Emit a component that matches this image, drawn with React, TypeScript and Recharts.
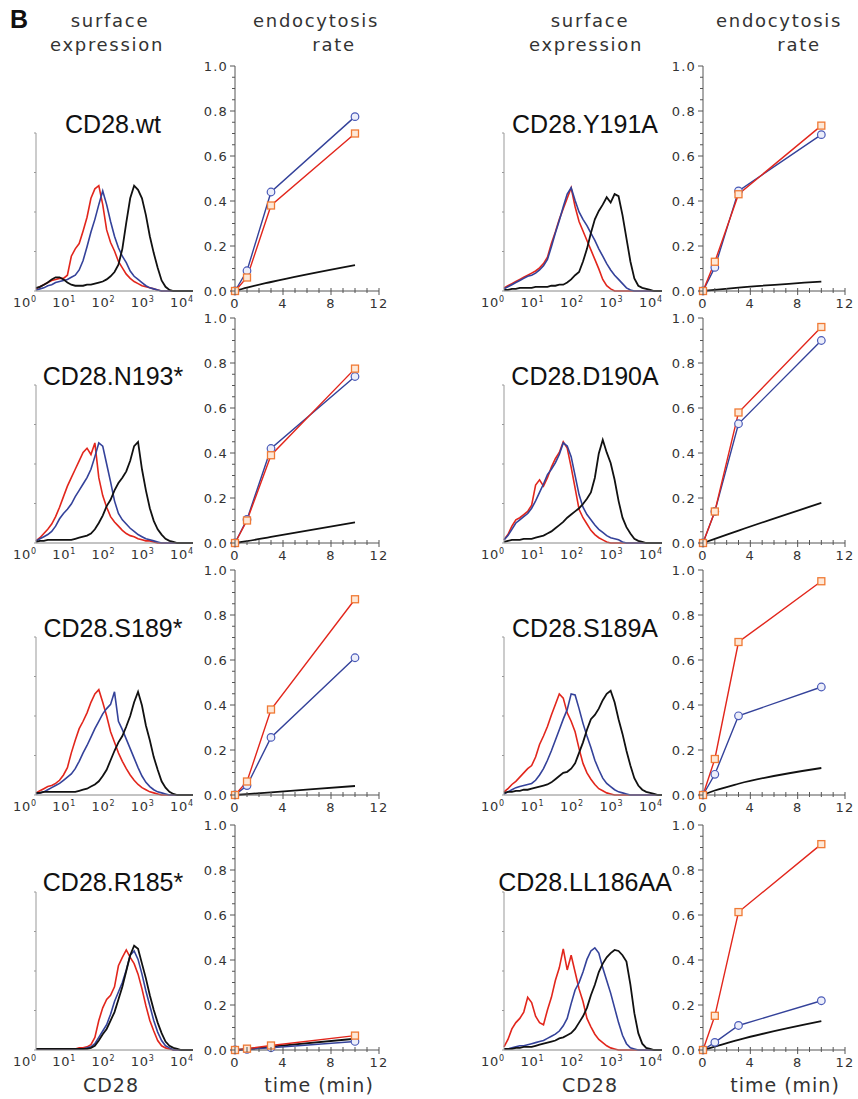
import { LineChart, Line, XAxis, YAxis } from "recharts";

// log10 fluorescence grid (histogram channels) and time points
const LOG_X = [0, 0.1, 0.2, 0.3, 0.4, 0.5, 0.6, 0.7, 0.8, 0.9, 1, 1.1, 1.2, 1.3, 1.4, 1.5, 1.6, 1.7, 1.8, 1.9, 2, 2.1, 2.2, 2.3, 2.4, 2.5, 2.6, 2.7, 2.8, 2.9, 3, 3.1, 3.2, 3.3, 3.4, 3.5, 3.6, 3.7, 3.8, 3.9, 4];
const TIME_MIN = [0, 1, 3, 10];
const HIST_X_TICKS = [0, 1, 2, 3, 4];
const HIST_Y_TICKS = [0, 37.5, 75, 112.5, 150];
const RATE_TICKS = [0, 0.05, 0.1, 0.15, 0.2, 0.25, 0.3, 0.35, 0.4, 0.45, 0.5, 0.55, 0.6, 0.65, 0.7, 0.75, 0.8, 0.85, 0.9, 0.95, 1];
const TIME_TICKS = [0, 1, 2, 3, 4, 5, 6, 7, 8, 9, 10, 11, 12];

// surface expression histograms (relative counts)
const wtHistRed = [2, 4, 6, 8, 10, 11, 12, 12, 15, 33, 40, 45, 57, 70, 88, 97, 100, 82, 58, 46, 38, 28, 22, 16, 12, 9, 7, 5, 4, 3, 2, 1, 0, 0, 0, 0, 0, 0, 0, 0, 0];
const wtHistBlue = [1, 2, 3, 5, 6, 8, 9, 10, 11, 13, 15, 20, 29, 42, 56, 68, 82, 95, 82, 66, 52, 41, 33, 27, 19, 14, 11, 8, 5, 3, 2, 1, 0, 0, 0, 0, 0, 0, 0, 0, 0];
const wtHistBlack = [3, 4, 6, 8, 11, 13, 13, 11, 8, 6, 5, 5, 5, 6, 6, 7, 8, 9, 11, 14, 18, 25, 40, 65, 88, 100, 96, 88, 72, 52, 36, 22, 10, 4, 1, 0, 0, 0, 0, 0, 0];

const y191aHistRed = [3, 5, 7, 9, 11, 13, 15, 17, 19, 22, 26, 32, 45, 56, 68, 78, 88, 98, 80, 66, 57, 48, 39, 30, 21, 11, 5, 2, 0, 0, 0, 0, 0, 0, 0, 0, 0, 0, 0, 0, 0];
const y191aHistBlue = [2, 4, 6, 8, 10, 12, 14, 15, 17, 20, 24, 30, 42, 55, 67, 80, 92, 98, 86, 75, 68, 62, 55, 48, 40, 33, 26, 20, 15, 11, 7, 3, 1, 0, 0, 0, 0, 0, 0, 0, 0];
const y191aHistBlack = [1, 1, 2, 2, 3, 3, 3, 3, 4, 4, 4, 4, 5, 5, 6, 6, 8, 11, 15, 18, 28, 40, 55, 68, 76, 82, 89, 84, 92, 90, 72, 50, 28, 12, 5, 3, 2, 1, 0, 0, 0];

const n193HistRed = [2, 5, 9, 13, 18, 25, 34, 44, 54, 62, 70, 78, 86, 90, 84, 95, 62, 45, 34, 25, 20, 16, 12, 9, 7, 6, 4, 3, 2, 2, 1, 0, 0, 0, 0, 0, 0, 0, 0, 0, 0];
const n193HistBlue = [2, 4, 6, 8, 11, 16, 23, 28, 32, 37, 44, 50, 56, 62, 70, 82, 95, 92, 75, 58, 40, 28, 22, 18, 14, 11, 8, 6, 4, 3, 2, 1, 0, 0, 0, 0, 0, 0, 0, 0, 0];
const n193HistBlack = [1, 2, 2, 3, 3, 3, 3, 3, 3, 3, 4, 5, 6, 7, 9, 13, 19, 26, 35, 41, 50, 57, 62, 68, 78, 92, 96, 70, 50, 33, 21, 13, 8, 4, 2, 1, 0, 0, 0, 0, 0];

const d190aHistRed = [3, 8, 16, 22, 24, 27, 30, 36, 55, 60, 54, 62, 72, 80, 86, 96, 90, 72, 52, 32, 24, 18, 12, 8, 5, 3, 1, 0, 0, 0, 0, 0, 0, 0, 0, 0, 0, 0, 0, 0, 0];
const d190aHistBlue = [3, 7, 13, 19, 22, 25, 28, 33, 40, 48, 56, 65, 70, 76, 84, 95, 92, 82, 64, 46, 34, 27, 22, 17, 13, 10, 7, 5, 4, 3, 1, 0, 0, 0, 0, 0, 0, 0, 0, 0, 0];
const d190aHistBlack = [1, 2, 3, 3, 3, 4, 4, 4, 5, 6, 7, 9, 11, 14, 17, 20, 24, 27, 30, 33, 37, 42, 48, 62, 85, 98, 86, 76, 60, 40, 24, 15, 9, 4, 2, 1, 0, 0, 0, 0, 0];

const s189HistRed = [2, 4, 6, 8, 9, 11, 14, 19, 26, 40, 52, 63, 70, 78, 88, 96, 100, 88, 75, 60, 50, 40, 32, 25, 19, 14, 10, 7, 5, 3, 2, 1, 0, 0, 0, 0, 0, 0, 0, 0, 0];
const s189HistBlue = [1, 2, 3, 5, 7, 9, 11, 14, 17, 20, 25, 32, 40, 47, 55, 63, 70, 77, 82, 86, 98, 70, 62, 53, 44, 35, 26, 18, 12, 8, 5, 3, 2, 1, 0, 0, 0, 0, 0, 0, 0];
const s189HistBlack = [2, 2, 3, 3, 3, 3, 3, 3, 3, 3, 3, 4, 5, 6, 8, 10, 13, 18, 24, 33, 42, 50, 56, 65, 75, 88, 98, 85, 66, 52, 36, 24, 13, 7, 3, 1, 0, 0, 0, 0, 0];

const s189aHistRed = [3, 6, 10, 13, 17, 21, 25, 28, 36, 48, 56, 65, 76, 86, 96, 92, 78, 70, 60, 44, 30, 21, 15, 10, 6, 4, 2, 1, 0, 0, 0, 0, 0, 0, 0, 0, 0, 0, 0, 0, 0];
const s189aHistBlue = [1, 3, 5, 7, 8, 9, 10, 11, 14, 19, 25, 33, 42, 52, 62, 72, 81, 96, 95, 82, 68, 56, 45, 33, 24, 16, 11, 8, 5, 3, 2, 1, 0, 0, 0, 0, 0, 0, 0, 0, 0];
const s189aHistBlack = [2, 3, 3, 4, 4, 5, 5, 6, 7, 8, 9, 10, 12, 15, 18, 21, 22, 25, 30, 40, 50, 62, 72, 76, 82, 90, 96, 99, 88, 72, 58, 42, 28, 16, 9, 5, 3, 2, 1, 0, 0];

const r185HistRed = [1, 1, 1, 1, 1, 1, 1, 1, 1, 1, 1, 2, 2, 3, 5, 12, 28, 40, 48, 52, 60, 80, 88, 95, 88, 82, 72, 58, 42, 28, 18, 9, 4, 2, 1, 0, 0, 0, 0, 0, 0];
const r185HistBlue = [1, 1, 1, 1, 1, 1, 1, 1, 1, 1, 1, 1, 1, 2, 3, 6, 12, 18, 24, 34, 46, 55, 64, 76, 90, 94, 86, 72, 56, 42, 28, 17, 9, 4, 2, 0, 0, 0, 0, 0, 0];
const r185HistBlack = [1, 1, 1, 1, 1, 1, 1, 1, 1, 1, 1, 1, 1, 1, 2, 4, 9, 15, 20, 28, 36, 48, 60, 75, 90, 99, 96, 82, 68, 52, 38, 26, 16, 8, 4, 2, 1, 0, 0, 0, 0];

const ll186aaHistRed = [3, 10, 20, 26, 30, 36, 50, 45, 32, 26, 24, 38, 50, 66, 78, 96, 76, 90, 74, 58, 46, 30, 22, 15, 10, 7, 4, 2, 1, 0, 0, 0, 0, 0, 0, 0, 0, 0, 0, 0, 0];
const ll186aaHistBlue = [1, 1, 2, 3, 4, 4, 5, 6, 7, 8, 9, 11, 13, 15, 18, 23, 30, 44, 57, 64, 74, 86, 94, 97, 92, 78, 66, 54, 40, 26, 14, 6, 2, 1, 0, 0, 0, 0, 0, 0, 0];
const ll186aaHistBlack = [1, 1, 1, 2, 2, 3, 3, 3, 4, 5, 6, 7, 8, 9, 11, 12, 14, 16, 20, 26, 32, 40, 52, 62, 74, 82, 88, 92, 95, 94, 90, 84, 62, 35, 16, 6, 2, 1, 0, 0, 0];

// endocytosis rate at TIME_MIN
const wtRed = [0, 0.06, 0.38, 0.7];
const wtBlue = [0, 0.09, 0.44, 0.775];
const wtBlack = [0, 0.015, 0.04, 0.115];
const y191aRed = [0, 0.13, 0.43, 0.735];
const y191aBlue = [0, 0.105, 0.445, 0.695];
const y191aBlack = [0, 0.005, 0.015, 0.042];
const n193Red = [0, 0.1, 0.39, 0.775];
const n193Blue = [0, 0.105, 0.42, 0.74];
const n193Black = [0, 0.008, 0.027, 0.092];
const d190aRed = [0, 0.14, 0.58, 0.96];
const d190aBlue = [0, 0.14, 0.53, 0.9];
const d190aBlack = [0, 0.018, 0.055, 0.178];
const s189Red = [0, 0.06, 0.38, 0.87];
const s189Blue = [0, 0.042, 0.256, 0.61];
const s189Black = [0, 0.004, 0.012, 0.04];
const s189aRed = [0, 0.16, 0.68, 0.95];
const s189aBlue = [0, 0.092, 0.352, 0.48];
const s189aBlack = [0, 0.02, 0.05, 0.12];
const r185Red = [0, 0.006, 0.02, 0.064];
const r185Blue = [0, 0.003, 0.01, 0.038];
const r185Black = [0, 0.004, 0.015, 0.05];
const ll186aaRed = [0, 0.152, 0.613, 0.915];
const ll186aaBlue = [0, 0.034, 0.109, 0.219];
const ll186aaBlack = [0, 0.015, 0.045, 0.128];

const RED = "#e2261c";
const ORANGE = "#f07a35";
const BLUE = "#34429a";
const BLACK = "#111111";
const AXIS = "#555555";
const TEXT = "#333333";
const SANS = "DejaVu Sans, Verdana, sans-serif";
const ARIAL = "Liberation Sans, Arial, sans-serif";

const histRows = (red: number[], blue: number[], black: number[]) =>
  LOG_X.map((L, i) => ({ L, red: red[i], blue: blue[i], black: black[i] }));
const rateRows = (red: number[], blue: number[], black: number[]) =>
  TIME_MIN.map((t, i) => ({ t, red: red[i], blue: blue[i], black: black[i] }));

const HistXTick = ({ x, y, payload }: any) => (
  <text x={x + 1} y={y + 16} textAnchor="end" fontSize={13} fontFamily={SANS} fill={TEXT} letterSpacing={0.8}>
    10
    <tspan dy={-5} fontSize={8}>
      {payload.value}
    </tspan>
  </text>
);

const HistYTick = ({ x, y }: any) => <line x1={x - 2} x2={x} y1={y} y2={y} stroke="#999" />;

const RateYTick = ({ x, y, payload }: any) => {
  const v = payload.value;
  const major = Math.abs(v * 5 - Math.round(v * 5)) < 1e-6;
  return (
    <g>
      <line x1={x - (major ? 5 : 3)} x2={x} y1={y} y2={y} stroke={AXIS} />
      {major && (
        <text x={x - 7} y={y + 4.5} textAnchor="end" fontSize={13} fontFamily={SANS} fill={TEXT} letterSpacing={1.2}>
          {v.toFixed(1)}
        </text>
      )}
    </g>
  );
};

const TimeTick = ({ x, y, payload }: any) => {
  const v = payload.value;
  const major = v % 4 === 0;
  return (
    <g>
      <line x1={x} x2={x} y1={y - 3} y2={y + (major ? 4 : 2)} stroke={AXIS} />
      {major && (
        <text x={x} y={y + 17} textAnchor="middle" fontSize={13} fontFamily={SANS} fill={TEXT} letterSpacing={1.2}>
          {v}
        </text>
      )}
    </g>
  );
};

const SquareDot = ({ cx, cy }: any) =>
  cx == null ? null : (
    <rect x={cx - 3.5} y={cy - 3.5} width={7} height={7} fill="#fde8d8" stroke={ORANGE} strokeWidth={1.3} />
  );

interface PanelProps {
  histLeft: number;
  histWidth: number;
  rateLeft: number;
  rateWidth: number;
  top: number;
  hist: { L: number; red: number; blue: number; black: number }[];
  rate: { t: number; red: number; blue: number; black: number }[];
}

const RATE_H = 225;
const HIST_H = 158;

const Panel = ({ histLeft, histWidth, rateLeft, rateWidth, top, hist, rate }: PanelProps) => {
  const base = top + RATE_H;
  return (
    <>
      <div style={{ position: "absolute", left: histLeft - 30, top: base - HIST_H - 2 }}>
        <LineChart width={30 + histWidth + 10} height={2 + HIST_H + 24} data={hist} margin={{ top: 2, right: 10, left: 0, bottom: 0 }}>
          <XAxis
            dataKey="L"
            type="number"
            domain={[0, 4]}
            ticks={HIST_X_TICKS}
            tick={<HistXTick />}
            tickSize={0}
            tickMargin={0}
            height={24}
            axisLine={{ stroke: "#888" }}
            interval={0}
          />
          <YAxis
            type="number"
            domain={[0, 150]}
            ticks={HIST_Y_TICKS}
            tick={<HistYTick />}
            tickSize={0}
            tickMargin={0}
            width={30}
            axisLine={{ stroke: "#999" }}
            interval={0}
          />
          <Line dataKey="red" stroke={RED} strokeWidth={1.6} dot={false} isAnimationActive={false} />
          <Line dataKey="blue" stroke={BLUE} strokeWidth={1.6} dot={false} isAnimationActive={false} />
          <Line dataKey="black" stroke={BLACK} strokeWidth={1.8} dot={false} isAnimationActive={false} />
        </LineChart>
      </div>
      <div style={{ position: "absolute", left: rateLeft - 40, top: top - 8 }}>
        <LineChart width={40 + rateWidth + 16} height={8 + RATE_H + 24} data={rate} margin={{ top: 8, right: 16, left: 0, bottom: 0 }}>
          <XAxis
            dataKey="t"
            type="number"
            domain={[0, 12]}
            ticks={TIME_TICKS}
            tick={<TimeTick />}
            tickSize={0}
            tickMargin={0}
            height={24}
            axisLine={{ stroke: AXIS }}
            interval={0}
          />
          <YAxis
            type="number"
            domain={[0, 1]}
            ticks={RATE_TICKS}
            tick={<RateYTick />}
            tickSize={0}
            tickMargin={0}
            width={40}
            axisLine={{ stroke: AXIS }}
            interval={0}
          />
          <Line type="monotone" dataKey="black" stroke={BLACK} strokeWidth={1.8} dot={false} isAnimationActive={false} />
          <Line
            dataKey="blue"
            stroke={BLUE}
            strokeWidth={1.4}
            dot={{ r: 3.8, stroke: "#4a5ab8", fill: "#eceefa", strokeWidth: 1.2 }}
            isAnimationActive={false}
          />
          <Line dataKey="red" stroke={RED} strokeWidth={1.4} dot={<SquareDot />} isAnimationActive={false} />
        </LineChart>
      </div>
    </>
  );
};

const ROW_TOPS = [66, 318, 570, 825];

const LEFT_PANELS = [
  { title: "CD28.wt", hist: histRows(wtHistRed, wtHistBlue, wtHistBlack), rate: rateRows(wtRed, wtBlue, wtBlack) },
  { title: "CD28.N193*", hist: histRows(n193HistRed, n193HistBlue, n193HistBlack), rate: rateRows(n193Red, n193Blue, n193Black) },
  { title: "CD28.S189*", hist: histRows(s189HistRed, s189HistBlue, s189HistBlack), rate: rateRows(s189Red, s189Blue, s189Black) },
  { title: "CD28.R185*", hist: histRows(r185HistRed, r185HistBlue, r185HistBlack), rate: rateRows(r185Red, r185Blue, r185Black) },
];
const RIGHT_PANELS = [
  { title: "CD28.Y191A", hist: histRows(y191aHistRed, y191aHistBlue, y191aHistBlack), rate: rateRows(y191aRed, y191aBlue, y191aBlack) },
  { title: "CD28.D190A", hist: histRows(d190aHistRed, d190aHistBlue, d190aHistBlack), rate: rateRows(d190aRed, d190aBlue, d190aBlack) },
  { title: "CD28.S189A", hist: histRows(s189aHistRed, s189aHistBlue, s189aHistBlack), rate: rateRows(s189aRed, s189aBlue, s189aBlack) },
  { title: "CD28.LL186AA", hist: histRows(ll186aaHistRed, ll186aaHistBlue, ll186aaHistBlack), rate: rateRows(ll186aaRed, ll186aaBlue, ll186aaBlack) },
];

const TITLE_BASE = [133, 385, 637, 891];

export default function App() {
  const headStyle = { fontSize: 18, fontFamily: SANS, fill: TEXT, letterSpacing: 1.7 };
  const axisTitle = { fontSize: 19, fontFamily: SANS, fill: TEXT, letterSpacing: 1 };
  return (
    <div style={{ position: "absolute", left: 0, top: 0, width: 858, height: 1099, background: "#fff" }}>
      {LEFT_PANELS.map((p, i) => (
        <Panel key={p.title} histLeft={36} histWidth={157} rateLeft={235} rateWidth={144} top={ROW_TOPS[i]} hist={p.hist} rate={p.rate} />
      ))}
      {RIGHT_PANELS.map((p, i) => (
        <Panel key={p.title} histLeft={504} histWidth={158} rateLeft={703} rateWidth={142} top={ROW_TOPS[i]} hist={p.hist} rate={p.rate} />
      ))}
      <svg width={858} height={1099} style={{ position: "absolute", left: 0, top: 0, pointerEvents: "none" }}>
        <text x={10} y={28} fontSize={25} fontWeight="bold" fontFamily={ARIAL} fill="#111">
          B
        </text>
        <text x={110} y={27} textAnchor="middle" style={headStyle}>surface</text>
        <text x={107} y={51} textAnchor="middle" style={headStyle}>expression</text>
        <text x={316} y={27} textAnchor="middle" style={headStyle}>endocytosis</text>
        <text x={334} y={51} textAnchor="middle" style={headStyle}>rate</text>
        <text x={590} y={27} textAnchor="middle" style={headStyle}>surface</text>
        <text x={586} y={51} textAnchor="middle" style={headStyle}>expression</text>
        <text x={779} y={27} textAnchor="middle" style={headStyle}>endocytosis</text>
        <text x={799} y={51} textAnchor="middle" style={headStyle}>rate</text>
        {LEFT_PANELS.map((p, i) => (
          <text key={p.title} x={113} y={TITLE_BASE[i]} textAnchor="middle" fontSize={25} fontFamily={ARIAL} fill="#111">
            {p.title}
          </text>
        ))}
        {RIGHT_PANELS.map((p, i) => (
          <text key={p.title} x={585} y={TITLE_BASE[i]} textAnchor="middle" fontSize={25} fontFamily={ARIAL} fill="#111">
            {p.title}
          </text>
        ))}
        <text x={111} y={1092} textAnchor="middle" style={axisTitle}>CD28</text>
        <text x={319} y={1092} textAnchor="middle" style={axisTitle}>time (min)</text>
        <text x={590} y={1092} textAnchor="middle" style={axisTitle}>CD28</text>
        <text x={785} y={1092} textAnchor="middle" style={axisTitle}>time (min)</text>
      </svg>
    </div>
  );
}
